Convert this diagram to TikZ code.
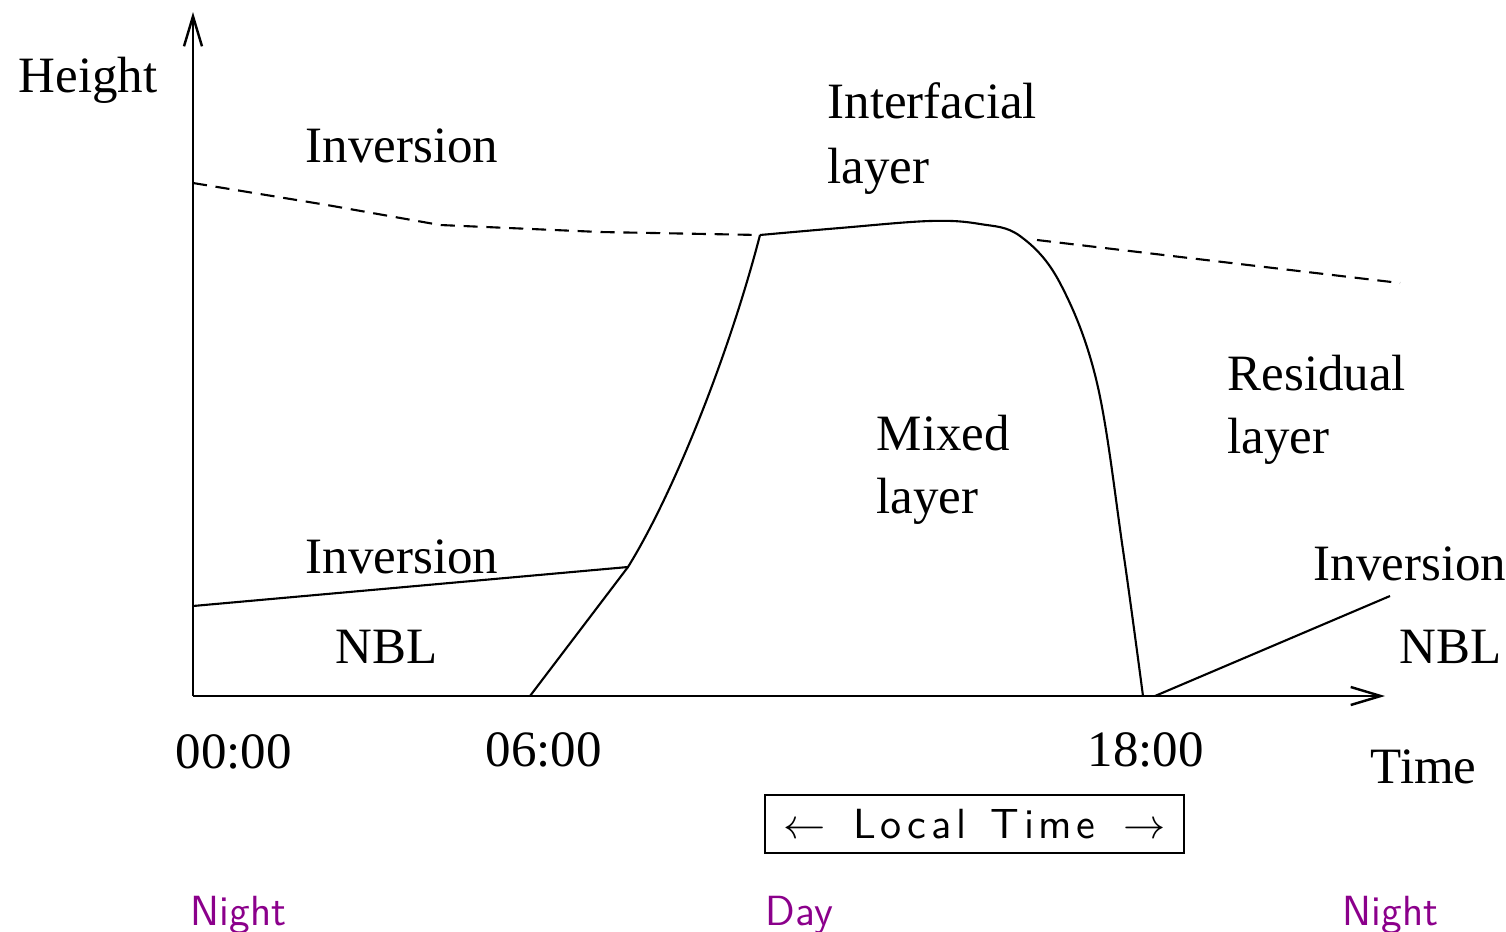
\documentclass[tikz,border=0pt]{standalone}
\usepackage{fontspec}
\setmainfont{Liberation Serif}
\newfontfamily\widesans{lmsans10-regular.otf}[LetterSpace=11]
\usepackage{tikz}
\usetikzlibrary{arrows.meta}
\definecolor{plum}{HTML}{8B008B}
\tikzset{
  layer/.style={anchor=base west,inner sep=0pt,font=\fontsize{14.5}{17}\selectfont},
  period/.style={anchor=base west,inner sep=0pt,text=plum,font=\sffamily\fontsize{12}{14}\selectfont},
  axis/.style={line width=0.7pt,-{Straight Barb[length=3mm,width=1.8mm]}},
  lid/.style={line width=0.6pt,dash pattern=on 4pt off 2.5pt},
  front/.style={line width=0.6pt}
}

\begin{document}
\begin{tikzpicture}
  \useasboundingbox (0,0) rectangle (15.06,9.31);
  % axes
  \coordinate (o) at (1.93,2.35);
  \coordinate (ytop) at (1.93,9.19);
  \coordinate (xend) at (13.85,2.35);
  \draw[axis] (o) -- (ytop);
  \draw[axis] (o) -- (xend);
  % inversion lid, dashed where nothing mixes below it
  \draw[lid] (1.93,7.48) -- (3.27,7.26) -- (4.40,7.06) -- (6.00,6.99) -- (7.60,6.96);
  \draw[lid] (10.37,6.91) -- (14.00,6.48);
  % mixed layer
  \coordinate (rise) at (5.30,2.35);
  \coordinate (meet) at (6.28,3.64);
  \coordinate (cap) at (7.60,6.96);
  \coordinate (nbl0) at (1.93,3.25);
  \draw[front] (rise) -- (meet) .. controls (6.75,4.40) and (7.30,5.80) .. (cap);
  \draw[front] plot[smooth,tension=0.6] coordinates {(7.60,6.96) (8.40,7.03) (9.30,7.10) (9.80,7.07) (10.20,6.95) (10.60,6.48) (10.97,5.48) (11.23,3.81) (11.43,2.35)};
  % night boundary layers
  \draw[front] (nbl0) -- (meet);
  \coordinate (sink) at (11.55,2.35);
  \coordinate (nbl1) at (13.90,3.35);
  \draw[front] (sink) -- (nbl1);
  % labels
  \node[layer] (height) at (0.18,8.39) {Height};
  \node[layer] (inv1) at (3.05,7.69) {Inversion};
  \node[layer] (intf) at (8.27,8.13) {Interfacial};
  \node[layer] (intf2) at (8.27,7.48) {layer};
  \node[layer] (mixed) at (8.76,4.81) {Mixed};
  \node[layer] (mixed2) at (8.76,4.18) {layer};
  \node[layer] (resid) at (12.27,5.41) {Residual};
  \node[layer] (resid2) at (12.27,4.78) {layer};
  \node[layer] (inv2) at (3.05,3.58) {Inversion};
  \node[layer] (nblA) at (3.35,2.68) {NBL};
  \node[layer] (inv3) at (13.13,3.51) {Inversion};
  \node[layer] (nblB) at (13.99,2.68) {NBL};
  \node[layer] (t0) at (1.75,1.63) {00:00};
  \node[layer] (t6) at (4.85,1.65) {06:00};
  \node[layer] (t18) at (10.87,1.65) {18:00};
  \node[layer] (time) at (13.70,1.48) {Time};
  \node[draw,line width=0.6pt,minimum width=4.19cm,minimum height=0.58cm,inner sep=0pt,
        font=\widesans\fontsize{12}{14}\selectfont] (clock) at (9.745,1.07)
        {$\leftarrow$\hspace{8pt}Local\hspace{7pt}Time\hspace{8pt}$\rightarrow$};
  \node[period] (night0) at (1.90,0.06) {Night};
  \node[period] (day) at (7.65,0.06) {Day};
  \node[period] (night1) at (13.42,0.06) {Night};
\end{tikzpicture}
\end{document}
